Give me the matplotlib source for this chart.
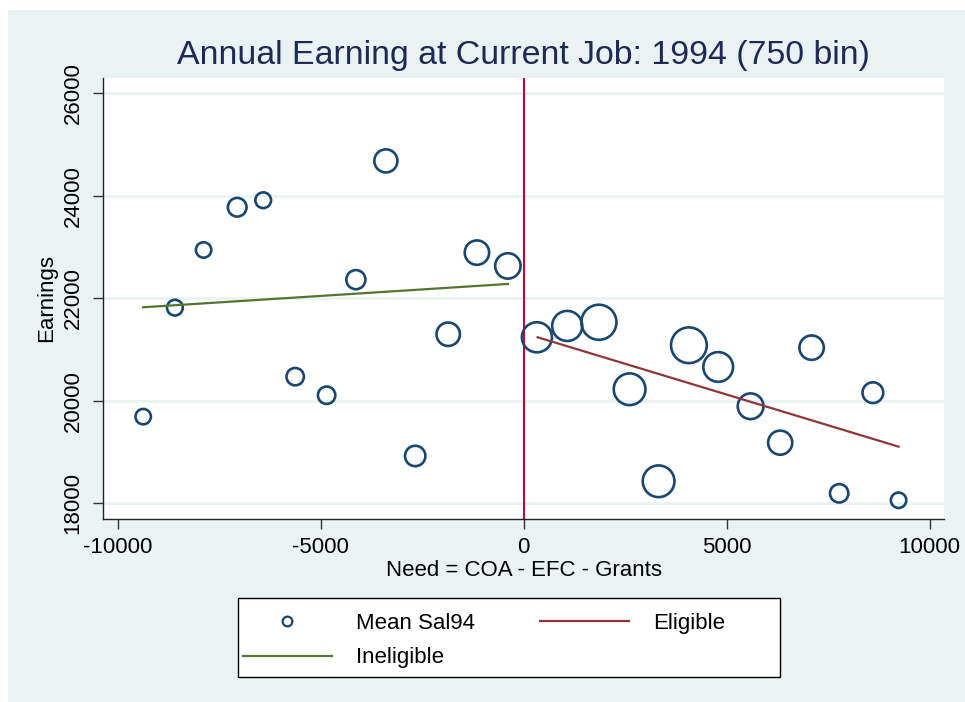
import numpy as np
import matplotlib
matplotlib.use('Agg')
import matplotlib.pyplot as plt
from matplotlib.lines import Line2D
from matplotlib.patches import Rectangle

plt.rcParams['font.family'] = ['Liberation Sans', 'DejaVu Sans']
plt.rcParams['axes.unicode_minus'] = False

# binned means (750 bins)
need_left = [-9370, -8589, -7882, -7054, -6414, -5626, -4852, -4131, -3392, -2670, -1857, -1150, -387]
sal_left = [19686, 21814, 22941, 23775, 23912, 20467, 20104, 22361, 24680, 18918, 21295, 22889, 22629]
wt_left = [81, 84, 81, 113, 84, 100, 100, 118, 165, 132, 169, 182, 196]

need_right = [328, 1074, 1855, 2611, 3325, 4071, 4793, 5591, 6320, 7094, 7773, 8603, 9236]
sal_right = [21236, 21457, 21529, 20221, 18424, 21080, 20656, 19889, 19178, 21033, 18189, 20154, 18053]
wt_right = [267, 267, 355, 294, 294, 367, 261, 200, 178, 182, 110, 136, 81]

# fitted lines (endpoints)
inel_x = [-9370, -387]
inel_y = [21822, 22277]
elig_x = [345, 9236]
elig_y = [21236, 19100]

yticks = [18000, 20000, 22000, 24000, 26000]
xticks = [-10000, -5000, 0, 5000, 10000]

navy = '#1a476f'
maroon = '#90353b'
green = '#55752f'
cranberry = '#c10534'
bg = '#eaf2f3'

fig = plt.figure(figsize=(9.65, 7.02), dpi=100)
fig.patch.set_facecolor(bg)
# white margin on the left and top
fig.patches.append(Rectangle((0, 0), 8 / 965, 1, transform=fig.transFigure,
                             facecolor='white', edgecolor='none', zorder=-10))
fig.patches.append(Rectangle((0, 1 - 10 / 702), 1, 10 / 702, transform=fig.transFigure,
                             facecolor='white', edgecolor='none', zorder=-10))

ax = fig.add_axes([103 / 965, 1 - 518.5 / 702, 841 / 965, 440.2 / 702])
ax.set_facecolor('white')

x_all = np.array(need_left + need_right)
y_all = np.array(sal_left + sal_right)
w_all = np.array(wt_left + wt_right, dtype=float)
ms = (2 * np.sqrt(w_all) - 2.6) / 1.389
ax.scatter(x_all, y_all, s=ms ** 2, facecolors='none', edgecolors=navy, linewidths=1.9, zorder=3)

ax.plot(elig_x, elig_y, color=maroon, lw=1.6, zorder=4)
ax.plot(inel_x, inel_y, color=green, lw=1.6, zorder=4)
ax.axvline(0, color=cranberry, lw=1.5, zorder=2)

ax.set_xlim(-10360, 10355)
ax.set_ylim(17697, 26293)
ax.set_xticks(xticks)
ax.set_yticks(yticks)
ax.set_yticklabels([str(v) for v in yticks], rotation=90, va='center')
ax.tick_params(axis='both', labelsize=16, length=7, width=1, color='#333333', pad=6)
ax.tick_params(axis='y', pad=7)
ax.yaxis.grid(True, color='#eaf2f3', lw=2, zorder=0)
ax.set_axisbelow(True)
for s in ['top', 'right']:
    ax.spines[s].set_visible(False)
for s in ['left', 'bottom']:
    ax.spines[s].set_color('#222222')
    ax.spines[s].set_linewidth(1)

ax.set_xlabel('Need = COA - EFC - Grants', fontsize=16, labelpad=2)
ax.set_ylabel('Earnings', fontsize=16, labelpad=4)
ax.set_title('Annual Earning at Current Job: 1994 (750 bin)', fontsize=24.4, color='#1e2a55', pad=10)

# legend box
fig.patches.append(Rectangle((238 / 965, 1 - 677 / 702), 542 / 965, 79 / 702, transform=fig.transFigure,
                             facecolor='white', edgecolor='black', lw=1, zorder=5))
handles = [
    Line2D([], [], marker='o', ls='none', mfc='none', mec=navy, mew=1.6, ms=7),
    Line2D([], [], color=green, lw=1.6),
    Line2D([], [], color=maroon, lw=1.6),
]
labels = ['Mean Sal94', 'Ineligible', 'Eligible']
leg = fig.legend(handles, labels, ncol=2, loc='upper left',
                 bbox_to_anchor=(243 / 965, 1 - 613 / 702),
                 fontsize=16, frameon=False, handlelength=4, handletextpad=1.1,
                 columnspacing=2.9, borderpad=0, borderaxespad=0, labelspacing=0.6)
leg.set_zorder(6)

fig.savefig('out.png', dpi=100, facecolor=fig.get_facecolor())
